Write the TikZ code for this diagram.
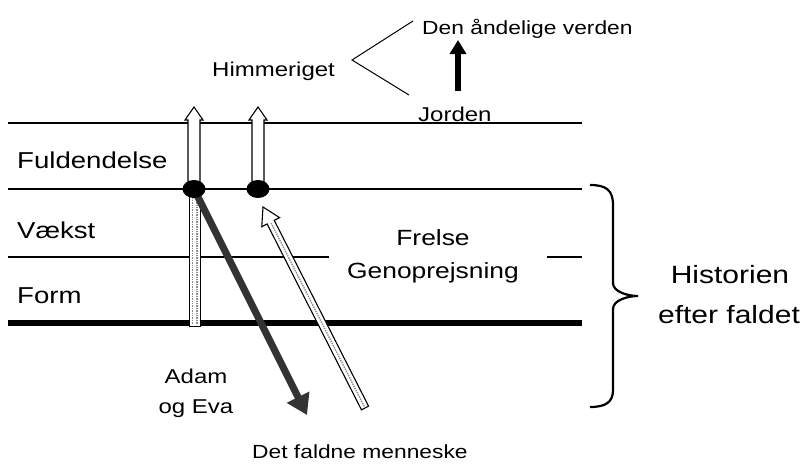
\documentclass[tikz,border=0pt]{standalone}
\usepackage{fontspec}
\setmainfont[FakeStretch=1.2]{Liberation Sans}
\usetikzlibrary{arrows.meta,calc,shapes.geometric}
\newcommand{\fsz}[1]{\fontsize{#1}{#1}\selectfont}
\begin{document}
\begin{tikzpicture}[x=1pt,y=-1pt,
 lbl/.style={anchor=base west,inner sep=0pt},
 clbl/.style={anchor=base,inner sep=0pt},
 rule/.style={line width=1.4pt},
 dotnode/.style={ellipse,fill=black,minimum width=23pt,minimum height=18pt,inner sep=0pt},
 hollow/.style={draw=black,line width=1.1pt,fill=white,line join=miter},
 hatch/.style={draw=black!45,densely dotted,line width=1.4pt},
]
\useasboundingbox (0,0) rectangle (807,464);
% level lines
\draw[rule] (8,123) -- (582,123);
\draw[rule] (8,189) -- (582,189);
\draw[rule] (8,257) -- (329,257);
\draw[rule] (547,257) -- (582,257);
\draw[line width=6.5pt] (8,323) -- (582,323);

% labels
\node[lbl,font=\fsz{23}] (fuld) at (17,168) {Fuldendelse};
\node[lbl,font=\fsz{23}] (vaekst) at (17,238) {Vækst};
\node[lbl,font=\fsz{23}] (form) at (17,303) {Form};
\node[lbl,font=\fsz{20}] (himmel) at (212,76) {Himmeriget};
\node[lbl,font=\fsz{19}] (aand) at (422,34) {Den åndelige verden};
\node[lbl,font=\fsz{20}] (jorden) at (418,121) {Jorden};
\node[clbl,font=\fsz{22}] (frelse) at (433,245) {Frelse};
\node[clbl,font=\fsz{22}] (genop) at (433,278) {Genoprejsning};
\node[clbl,font=\fsz{25}] (hist) at (730,283) {Historien};
\node[clbl,font=\fsz{25}] (efter) at (729,323) {efter faldet};
\node[clbl,font=\fsz{20}] (adam) at (196,383) {Adam};
\node[clbl,font=\fsz{20}] (ogeva) at (196,413) {og Eva};
\node[lbl,font=\fsz{19}] (detf) at (252,458) {Det faldne menneske};

% chevron
\coordinate (cvA) at (413,21);
\coordinate (cv) at (352,60);
\coordinate (cvB) at (409,95);
\draw[line width=1pt] (cvA) -- (cv) -- (cvB);

% black arrow
\coordinate (baS) at (458,91);
\coordinate (baE) at (458,40);
\draw[line width=6.5pt,-{Triangle[length=14pt,width=16pt]}] (baS) -- (baE);

% brace
\draw[line width=2.2pt] (590,185) .. controls (606,185) and (613,190) .. (613,205) -- (613,283)
  .. controls (613,292) and (628,296) .. (638,296)
  .. controls (628,296) and (613,300) .. (613,309) -- (613,390)
  .. controls (613,402) and (606,407) .. (590,407);

% dot positions
\coordinate (c1) at (194,189);
\coordinate (c2) at (258,189);

% vertical bar
\draw[line width=0.9pt,fill=white] (189,192) rectangle (200.5,326);
\draw[hatch] (192.5,195) -- (192.5,324);
\draw[hatch] (197,195) -- (197,324);

% fall arrow
\coordinate (fallTip) at (307,415);
\draw[line width=7pt,black!80,-{Triangle[length=20pt,width=24pt]}] (c1) -- (fallTip);

% hollow upward arrows
\foreach \c in {c1,c2}{
  \draw[hollow] ($(\c)+(-6,0)$) -- ($(\c)+(-6,-69)$) -- ($(\c)+(-9,-69)$) -- ($(\c)+(0,-82)$)
    -- ($(\c)+(9,-69)$) -- ($(\c)+(6,-69)$) -- ($(\c)+(6,0)$);
}

% hollow diagonal arrow (salvation)
\coordinate (hT) at (365,408);
\coordinate (hH) at (263,207);
\coordinate (hB) at ($(hH)!17pt!(hT)$);
\draw[hollow] ($(hT)!4pt!90:(hH)$) -- ($(hB)!4pt!90:(hH)$) -- ($(hB)!10pt!90:(hH)$) -- (hH)
  -- ($(hB)!10pt!-90:(hH)$) -- ($(hB)!4pt!-90:(hH)$) -- ($(hT)!4pt!-90:(hH)$) -- cycle;
\draw[hatch] ($(hT)!2pt!(hH)$) -- ($(hB)!1pt!(hT)$);

% dots
\node[dotnode] (d1) at (c1) {};
\node[dotnode] (d2) at (c2) {};
\end{tikzpicture}
\end{document}
